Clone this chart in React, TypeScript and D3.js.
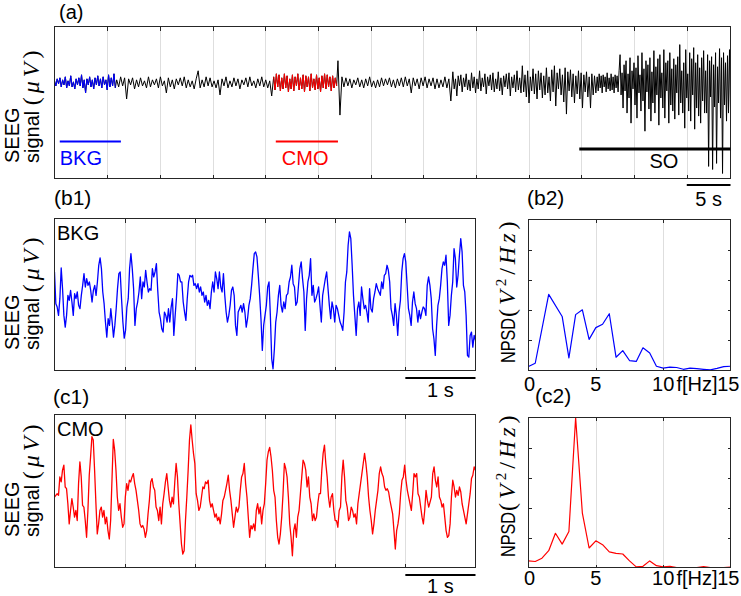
import React from 'react';
import * as d3 from 'd3';

// ---------------- DATA ----------------
// (a) overview recording (µV, arbitrary units), split by epoch; each epoch spans [start, end] seconds
const overviewDuration = 64.15; // seconds shown in (a)
const overviewTickStep = 5; // s
const overviewSegNames = ['BKG', 'pre', 'CMO', 'post', 'rise', 'SO'];
const overviewSegStart = [0, 5.9, 20.8, 26.9, 37.8, 51.5];
const overviewSegEnd = [5.9, 20.8, 26.9, 37.8, 51.5, 64.15];
const overviewBKG = [2,-3,4,-1,5,-4,3,-2,6,-5,2,-3,7,-4,1,-6,4,-2,5,-3,8,-5,3,-10,4,-2,6,-4,3,-6,5,-2,7,-3,4,-5,6,-2,3,-7,8,-4,5,-3,9,-5];
const overviewPre = [3,-4,6,-3,5,-16,4,-2,5,-6,3,-4,5,-3,2,-5,6,-4,3,-2,4,-5,6,-3,2,-10,5,-4,3,-6,4,-2,5,-3,6,-5,3,-4,2,-6,4,12,-5,3,-4,6,-3,5,-4,2,-5,3,-12,4,-3,6,-5,2,-4,5,-3,4,-6,3,-2,5,-4,6,-3,2,-5,4,-3,6,-4,3,-5,2,-13];
const overviewCMO = [6,-7,9,-4,8,-8,5,-6,9,-5,7,-9,4,-6,8,-8,6,-3,9,-7,5,-6,8,-9,7,-4,6,-8,9,-5,4,-7,8,-6,5,-9,7,-5,9,-6,8,-4,6,-8,7,-5,5,-3];
const overviewPost = [22,-32,6,-4,5,-3,4,-5,3,-2,5,-4,3,-5,4,-3,6,-4,2,-5,3,-4,5,-3,4,-2,5,-4,3,-5,4,-3,5,-4,6,-3,4,-10,5,-3,4,-6,5,-3,6,-5,4,-3,5,-6,4,-5,3,-4,6,-5,4,-18];
const overviewRise = [
  11,-6,4,-13,7,-3,8,-9,5,-4,9,-7,3,-8,10,-5,6,-10,4,-6,12,-8,5,-4,9,-11,6,-3,8,-7,10,-9,4,-6,11,-8,5,-12,7,-4,9,-6,10,-13,6,-5,8,-9,12,-7,5,-10,
  17,-9,8,-14,12,-20,6,-8,14,-11,9,-16,12,-7,10,-15,7,-12,15,-10,6,-18,13,-9,17,-23,10,-6,14,-12,8,-19,15,-31,11,-8,13,-14,9,-20,7,-11,12,-16,10,-25,8,-9,11,-14,6,-25,9,-12,7,-10
];
const overviewSO = [
  6,-8,9,-5,7,-10,8,-4,6,-9,10,-6,5,-8,9,-7,6,-10,8,-5,7,-9,12,
  28,-12,10,-25,18,-8,22,-30,9,-15,25,-40,12,-6,20,-22,15,-35,27,-10,8,-28,30,-18,14,-48,22,-9,18,-26,
  25,-38,11,-20,32,-30,16,-12,24,-42,28,-15,10,-25,33,-35,20,-8,22,-40,30,-22,14,-28,24,-36,18,-10,26,-32,
  38,-20,12,-30,20,-45,33,-15,9,-28,30,-38,24,-12,35,-46,20,-25,28,-33,15,-40,25,-18,32,-30,12,-30,28,-83,
  22,-14,26,-86,18,-24,30,-80,16,-20,34,-35,25,-90,30,-22,20,-38,27,-30,33,-25
];
const overviewRange = [-95, 56];
const overviewEventNames = ['BKG', 'CMO', 'SO'];
const overviewEventStart = [0.5, 21.0, 49.8];
const overviewEventEnd = [6.3, 26.9, 64.15];
const overviewScaleBar = [60, 64.15];
const overviewScaleLabel = '5 s';

// (b1) background epoch, 6 s
const segmentDuration = 6;
const segmentScaleBar = [5, 6];
const segmentScaleLabel = '1 s';
const bkgSignal = [
  70,-25,-35,-60,-10,82,20,-60,-95,-60,0,-15,15,-20,-60,5,-10,10,-30,-40,0,30,65,25,50,30,40,15,-20,15,30,0,40,
  90,112,80,10,-25,-80,-125,-70,-90,-40,-80,-125,-90,-40,20,65,70,-10,-80,-128,-105,-35,-10,80,125,80,20,-90,-40,-20,10,55,-10,40,25,75,40,10,20,15,80,55,70,95,15,-50,-70,-100,-110,-50,-60,-80,-40,-80,-35,-10,-120,-60,-5,65,60,40,40,-20,-50,-75,-10,40,60,55,60,30,35,20,35,10,25,0,10,-20,0,-30,-15,-40,10,40,10,70,50,20,70,25,10,65,0,-50,-80,-60,-30,15,25,0,-90,-120,-50,-40,-30,-50,-25,-50,-95,-70,-30,-10,30,80,125,130,115,60,0,-70,-165,-90,
  -60,-30,25,40,-60,-190,-220,-160,-80,-50,0,30,-30,-50,-20,-40,0,5,40,55,90,35,25,-30,-20,30,80,100,50,10,-105,-10,40,60,110,0,30,-20,-10,5,25,-30,-80,0,25,50,70,20,-30,-70,-20,-40,-80,-30,-40,-60,-80,-90,-105,-50,40,70,150,190,170,90,0,-60,-120,-40,-20,-60,25,-10,-40,-30,-50,-80,20,-40,-50,-10,10,35,20,10,0,40,20,60,65,90,75,40,-40,-60,-90,-25,-60,-120,-50,-15,70,110,125,100,30,-40,-60,-90,-20,10,-25,-40,-80,-45,-70,-50,-35,-40,-60,30,55,30,-10,-100,-130,-180,-90,-30,-10,30,80,100,90,120,40,-90,-60,0,40,140,110,25,60,120,170,130,30,10,-60,-180,-185,-120,-110,-155,-120,-135
];
const bkgRange = [-225, 230];

// (c1) CMO epoch, 6 s
const cmoSignal = [
  -20,-15,-10,-15,40,25,60,75,10,5,-40,-100,-60,-25,-50,-80,-60,-90,20,85,40,-45,-50,-90,-140,-60,45,100,160,150,60,-40,-130,-100,-60,-50,-80,-60,-100,-80,-120,-145,-90,30,152,120,60,-20,-60,-40,-80,-110,-100,-20,20,0,30,25,40,50,20,0,-30,-60,-100,-110,-105,-115,-140,-120,-70,-30,25,35,10,0,-50,-60,-90,-50,-100,-40,-10,25,50,10,-30,-50,-20,-40,25,80,40,-40,-100,-160,-190,-180,-90,-20,60,150,195,150,110,80,-10,-30,-60,-50,-20,10,5,25,20,30,-30,-50,-40,-60,-80,-70,-90,-80,-100,-70,-30,-20,0,20,45,0,-30,-70,-110,-80,-50,-65,-50,0,40,50,80,20,-20,-80,-140,-105,-115,-100,-120,-60,-40,-70,-50,-100,-60,-40,
  20,90,115,128,100,60,0,-20,-90,-140,-160,-130,-80,-10,80,65,40,-20,-100,-140,-195,-120,-100,-140,-80,-60,-10,40,90,80,60,10,40,-20,-40,-90,-70,-90,-80,-40,-10,-10,60,110,135,80,40,-20,-50,-20,-10,-60,-90,-90,-110,-60,-50,40,90,40,-30,-50,-90,-80,-50,-60,-80,-70,-100,-40,-10,20,50,80,110,80,40,-20,-60,-90,-130,-100,-60,-30,0,50,70,50,40,10,0,5,-5,-30,-50,-70,-120,-175,-120,-100,-70,-10,30,40,75,30,0,-20,-40,-60,-10,50,40,50,-10,-20,-50,-80,-100,-60,0,-30,-50,-35,-20,50,70,30,10,40,-20,-30,-50,-40,-80,-120,-140,-135,-100,-20,30,10,-20,0,-15,10,-5,-40,-60,-80,-100,-70,-40,-10,35,45,70,60
];
const cmoRange = [-230, 226];

// (b2)/(c2) normalised PSD
const bkgFreqs = [0,0.5,1.5,2.5,3,3.5,4,4.5,5,5.5,6,6.5,7,7.5,8,8.5,9,9.5,10,10.5,11,11.5,12,12.5,13,13.5,14,14.5,15];
const bkgPsd = [0.13,0.24,2.52,1.79,0.42,1.85,2.01,1.03,1.42,1.53,1.88,0.44,0.66,0.33,0.30,0.75,0.58,0.14,0.08,0.11,0.10,0.04,0.08,0.06,0.04,0.02,0.07,0.13,0.14];
const cmoFreqs = [0,0.5,1,1.5,2,2.5,3,3.5,4,4.5,5,5.5,6,6.5,7,7.5,8,8.5,9,9.5,10,10.5,11,11.5,12,12.5,13,13.5,14,14.5,15];
const cmoPsd = [0.22,0.2,0.31,0.56,1.14,0.78,1.2,4.99,1.81,0.65,0.89,0.76,0.52,0.47,0.45,0.22,0.02,0.04,0.22,0.06,0.02,0.04,0,0,0,0,0.03,0,0,0,0.01];
const psdRange = [0, 5];
const psdXTicks = [0, 5, 10, 15];
const psdYTicks = [1, 2, 3, 4];
const psdXLabel = 'f[Hz]';

// ---------------- STYLE ----------------
const SANS = '"Liberation Sans", Arial, Helvetica, sans-serif';
const SERIF = '"Liberation Serif", "DejaVu Serif", "Times New Roman", serif';
const GRID = '#dedede';
const AXIS = '#262626';
const BLUE = '#0000ff';
const RED = '#ff0000';
const eventColors = [BLUE, RED, '#000000'];

type Box = { x0: number; x1: number; y0: number; y1: number };

function Frame({ b, xTicks, yTicks = [] as number[], tick = 4 }: { b: Box; xTicks: number[]; yTicks?: number[]; tick?: number }) {
  return (
    <g shapeRendering="crispEdges">
      {xTicks.map((x, i) => (
        <g key={'x' + i} stroke={AXIS} strokeWidth={1}>
          <line x1={x} x2={x} y1={b.y0} y2={b.y0 + tick} />
          <line x1={x} x2={x} y1={b.y1 - tick} y2={b.y1} />
        </g>
      ))}
      {yTicks.map((y, i) => (
        <g key={'y' + i} stroke={AXIS} strokeWidth={1}>
          <line x1={b.x0} x2={b.x0 + tick} y1={y} y2={y} />
          <line x1={b.x1 - tick} x2={b.x1} y1={y} y2={y} />
        </g>
      ))}
      <rect x={b.x0} y={b.y0} width={b.x1 - b.x0} height={b.y1 - b.y0} fill="none" stroke={AXIS} strokeWidth={1} />
    </g>
  );
}

function Grid({ b, xTicks }: { b: Box; xTicks: number[] }) {
  return (
    <g shapeRendering="crispEdges">
      {xTicks.map((x, i) => (
        <line key={i} x1={x} x2={x} y1={b.y0} y2={b.y1} stroke={GRID} strokeWidth={1} />
      ))}
    </g>
  );
}

function SeegLabel({ y }: { y: number }) {
  return (
    <g fontSize={20} fill="#000">
      <text transform={`translate(19,${y}) rotate(-90)`}>SEEG</text>
      <text transform={`translate(39,${y}) rotate(-90)`}>
        signal{' '}
        <tspan fontFamily={SERIF} fontSize={24} letterSpacing={4}>
          (<tspan fontStyle="italic">μV</tspan>)
        </tspan>
      </text>
    </g>
  );
}

function NpsdLabel({ y }: { y: number }) {
  return (
    <g fill="#000">
      <text transform={`translate(515,${y}) rotate(-90)`} fontSize={21} textLength={45} lengthAdjust="spacingAndGlyphs">NPSD</text>
      <text transform={`translate(515,${y - 46}) rotate(-90)`} fontFamily={SERIF} fontSize={24} letterSpacing={4}>
        (<tspan fontStyle="italic">V</tspan>
        <tspan dy={-9} fontSize={15}>2</tspan>
        <tspan dy={9}>/</tspan>
        <tspan fontStyle="italic">Hz</tspan>)
      </text>
    </g>
  );
}

function SignalPanel({ b, values, range, color, tag, label, labelY }: any) {
  const x = d3.scaleLinear().domain([0, segmentDuration]).range([b.x0, b.x1]);
  const y = d3.scaleLinear().domain(range).range([b.y1, b.y0]);
  const dt = segmentDuration / (values.length - 1);
  const line = d3.line<number>().x((_, i) => x(i * dt)).y((v) => y(v));
  const ticks = d3.range(1, segmentDuration, 1).map((t) => Math.round(x(t)) + 0.5);
  const clipId = 'clip-' + tag;
  const barY = b.y1 + 7.5;
  return (
    <g>
      <defs>
        <clipPath id={clipId}>
          <rect x={b.x0} y={b.y0} width={b.x1 - b.x0} height={b.y1 - b.y0} />
        </clipPath>
      </defs>
      <Grid b={b} xTicks={ticks} />
      <path d={line(values) || ''} fill="none" stroke={color} strokeWidth={1.3} strokeLinejoin="round" clipPath={`url(#${clipId})`} />
      <Frame b={b} xTicks={ticks} />
      <text x={b.x0 + 2.5} y={b.y0 + 21.5} fontSize={20}>{label}</text>
      <line x1={x(segmentScaleBar[0])} x2={x(segmentScaleBar[1])} y1={barY} y2={barY} stroke="#000" strokeWidth={2} />
      <text x={(x(segmentScaleBar[0]) + x(segmentScaleBar[1])) / 2} y={labelY} fontSize={20} textAnchor="middle">{segmentScaleLabel}</text>
    </g>
  );
}

function PsdPanel({ b, freqs, values, color, labelY }: any) {
  const x = d3.scaleLinear().domain([0, 15]).range([b.x0, b.x1]);
  const y = d3.scaleLinear().domain(psdRange).range([b.y1, b.y0]);
  const line = d3.line<number>().x((_, i) => x(freqs[i])).y((v) => y(v));
  const gx = [5, 10].map((f) => Math.round(x(f)) + 0.5);
  const gy = psdYTicks.map((v) => Math.round(y(v)) + 0.5);
  return (
    <g>
      <Grid b={b} xTicks={gx} />
      <path d={line(values) || ''} fill="none" stroke={color} strokeWidth={1.2} strokeLinejoin="round" />
      <Frame b={b} xTicks={gx} yTicks={gy} tick={3} />
      <g fontSize={20}>
        <text x={x(psdXTicks[0]) + 1} y={labelY} textAnchor="middle">{psdXTicks[0]}</text>
        <text x={x(psdXTicks[1])} y={labelY} textAnchor="middle">{psdXTicks[1]}</text>
        <text x={x(psdXTicks[2])} y={labelY} textAnchor="middle">{psdXTicks[2]}</text>
        <text x={x(psdXTicks[3]) - 13} y={labelY} textAnchor="end">{psdXLabel}</text>
        <text x={x(psdXTicks[3]) + 9} y={labelY} textAnchor="end">{psdXTicks[3]}</text>
      </g>
    </g>
  );
}

export default function App() {
  const W = 741;
  const H = 596;

  // ---- (a) overview ----
  const aBox: Box = { x0: 54.5, x1: 730.5, y0: 26.5, y1: 178.5 };
  const segValues = [overviewBKG, overviewPre, overviewCMO, overviewPost, overviewRise, overviewSO];
  const segPoints = segValues.map((vals, s) => {
    const last = s === segValues.length - 1;
    const step = (overviewSegEnd[s] - overviewSegStart[s]) / (last ? vals.length - 1 : vals.length);
    return vals.map((v, j) => [overviewSegStart[s] + j * step, v] as [number, number]);
  });
  const allPoints = segPoints.flat();
  const xA = d3.scaleLinear().domain([0, overviewDuration]).range([aBox.x0, aBox.x1]);
  const yA = d3.scaleLinear().domain(overviewRange).range([aBox.y1, aBox.y0]);
  const lineA = d3.line<[number, number]>().x((d) => xA(d[0])).y((d) => yA(d[1]));
  const aTicks = d3.range(overviewTickStep, overviewDuration, overviewTickStep).map((t) => Math.round(xA(t)) + 0.5);
  const eventBarY = [141.5, 141.5, 149];
  const eventTextY = [165, 165, 168];

  const b1Box: Box = { x0: 54.5, x1: 475.5, y0: 218.5, y1: 370.5 };
  const b2Box: Box = { x0: 528.5, x1: 730.5, y0: 219.5, y1: 370.5 };
  const c1Box: Box = { x0: 54.5, x1: 475.5, y0: 414.5, y1: 567.5 };
  const c2Box: Box = { x0: 528.5, x1: 730.5, y0: 417.5, y1: 567.5 };

  return (
    <svg width={W} height={H} viewBox={`0 0 ${W} ${H}`} style={{ position: 'absolute', left: 0, top: 0, background: '#fff' }} fontFamily={SANS}>
      <rect x={0} y={0} width={W} height={H} fill="#fff" />

      {/* (a) */}
      <defs>
        <clipPath id="clip-a">
          <rect x={aBox.x0} y={aBox.y0} width={aBox.x1 - aBox.x0} height={aBox.y1 - aBox.y0} />
        </clipPath>
      </defs>
      <Grid b={aBox} xTicks={aTicks} />
      <g clipPath="url(#clip-a)" fill="none" strokeWidth={1} strokeLinejoin="round">
        <path d={lineA(allPoints) || ''} stroke="#000" />
        <path d={lineA(segPoints[0]) || ''} stroke={BLUE} />
        <path d={lineA(segPoints[2]) || ''} stroke={RED} />
      </g>
      <Frame b={aBox} xTicks={aTicks} />
      {overviewEventNames.map((name, i) => (
        <g key={name}>
          <line x1={xA(overviewEventStart[i])} x2={xA(overviewEventEnd[i])} y1={eventBarY[i]} y2={eventBarY[i]} stroke={eventColors[i]} strokeWidth={i === 2 ? 3 : 2} />
          <text
            x={i === 2 ? (xA(overviewEventStart[i]) + xA(overviewEventEnd[i])) / 2 + 9 : xA(overviewEventStart[i]) + (i === 1 ? 6 : 0)}
            y={eventTextY[i]}
            fontSize={20}
            fill={eventColors[i]}
            textAnchor={i === 2 ? 'middle' : 'start'}
          >
            {name}
          </text>
        </g>
      ))}
      <line x1={xA(overviewScaleBar[0])} x2={xA(overviewScaleBar[1])} y1={185} y2={185} stroke="#000" strokeWidth={2} />
      <text x={(xA(overviewScaleBar[0]) + xA(overviewScaleBar[1])) / 2} y={206} fontSize={20} textAnchor="middle">{overviewScaleLabel}</text>
      <text x={59} y={19} fontSize={20}>(a)</text>
      <SeegLabel y={163} />

      {/* (b1) */}
      <text x={54} y={205} fontSize={21}>(b1)</text>
      <SignalPanel b={b1Box} values={bkgSignal} range={bkgRange} color={BLUE} tag="b1" label="BKG" labelY={397} />
      <SeegLabel y={350} />

      {/* (b2) */}
      <text x={527} y={205} fontSize={21}>(b2)</text>
      <PsdPanel b={b2Box} freqs={bkgFreqs} values={bkgPsd} color={BLUE} labelY={391} />
      <NpsdLabel y={363} />

      {/* (c1) */}
      <text x={53} y={404} fontSize={21}>(c1)</text>
      <SignalPanel b={c1Box} values={cmoSignal} range={cmoRange} color={RED} tag="c1" label="CMO" labelY={593} />
      <SeegLabel y={537} />

      {/* (c2) */}
      <text x={535} y={403} fontSize={21}>(c2)</text>
      <PsdPanel b={c2Box} freqs={cmoFreqs} values={cmoPsd} color={RED} labelY={585} />
      <NpsdLabel y={557} />
    </svg>
  );
}
